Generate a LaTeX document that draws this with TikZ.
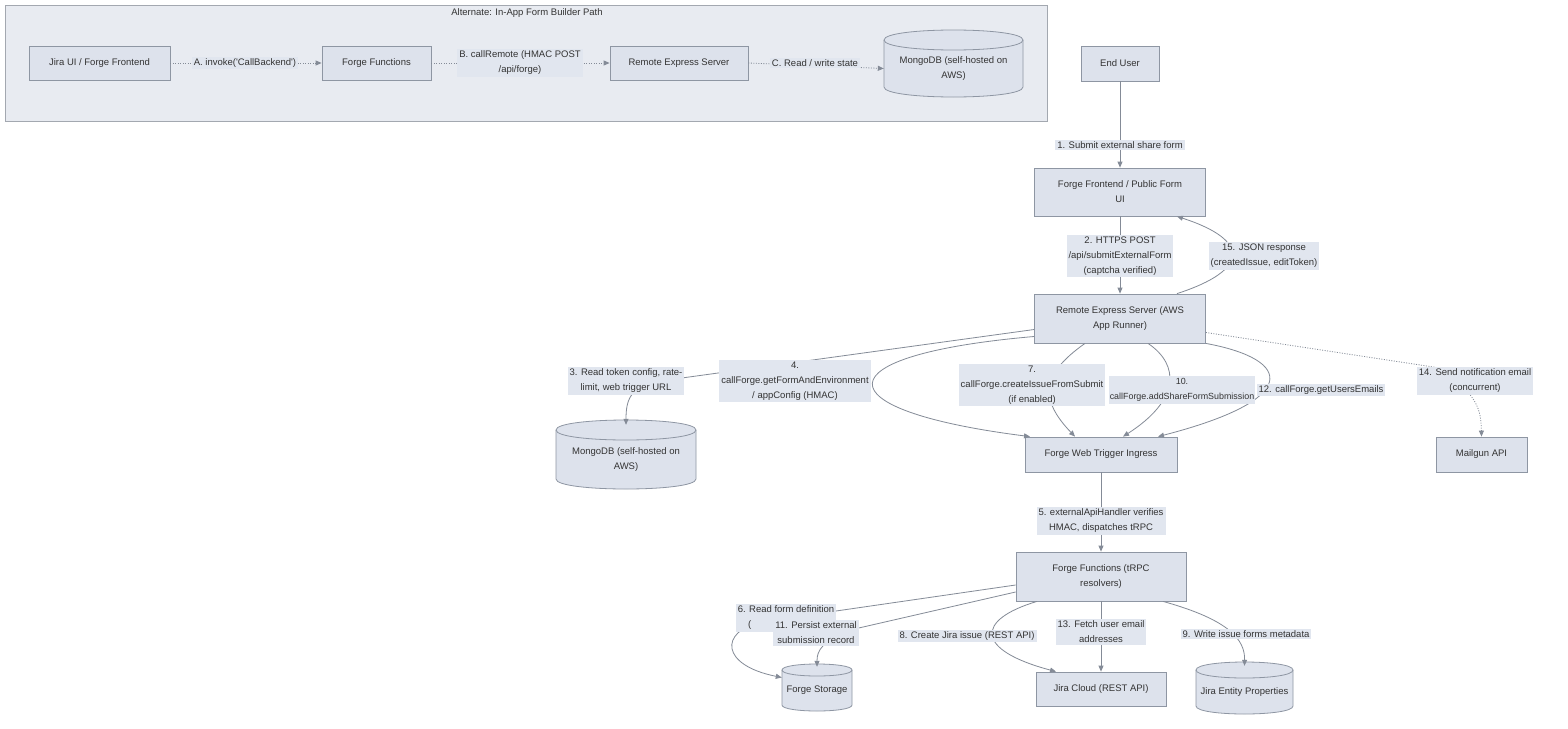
\documentclass[tikz,border=0pt]{standalone}
\usepackage{fontspec}
\setmainfont{Liberation Sans}
\usetikzlibrary{arrows.meta,calc}
\definecolor{nfill}{HTML}{DDE2EC}
\definecolor{nborder}{HTML}{8E96A3}
\definecolor{cfill}{HTML}{E8EBF1}
\definecolor{cborder}{HTML}{A3A8B0}
\definecolor{lfill}{HTML}{E1E6EF}
\definecolor{edgec}{HTML}{848B97}
\definecolor{txt}{HTML}{333333}
\tikzset{
 box/.style={draw=nborder, fill=nfill, line width=0.8pt, align=center, text=txt, font=\fontsize{9.5}{15}\selectfont, inner sep=0pt},
 lbl/.style={fill=lfill, align=center, text=txt, font=\fontsize{9.5}{15}\selectfont, inner xsep=2pt, inner ysep=2pt},
 edge/.style={draw=edgec, line width=0.8pt},
 arr/.style={-{Triangle[length=6pt,width=5pt]}},
 dotl/.style={dash pattern=on 1pt off 1.5pt}
}
% name, L, T, R, B, ry, text
\newcommand{\dbcyl}[7]{%
 \path[fill=nfill, draw=nborder, line width=0.8pt] (#2,#3+#6) -- (#2,#5-#6) .. controls (#2,#5+#6/3) and (#4,#5+#6/3) .. (#4,#5-#6) -- (#4,#3+#6) .. controls (#4,#3-#6/3) and (#2,#3-#6/3) .. (#2,#3+#6) -- cycle;
 \draw[nborder, line width=0.8pt] (#2,#3+#6) .. controls (#2,#3+#6*7/3) and (#4,#3+#6*7/3) .. (#4,#3+#6);
 \node[align=center, text=txt, font=\fontsize{9.5}{15}\selectfont, inner sep=0pt, minimum width={(#4-#2)*1pt}, minimum height={(#5-#3)*1pt}] (#1) at ({(#2+#4)/2},{(#3+#5)/2+#6/2}) {#7};
}
\begin{document}
\begin{tikzpicture}[x=1pt,y=-1pt]
\useasboundingbox[fill=white] (0,0) rectangle (1568,728);
% cluster
\draw[fill=cfill, draw=cborder, line width=0.8pt] (5,5) rectangle (1047,121);
\node[text=txt, font=\fontsize{9.5}{15}\selectfont] (ctitle) at (527,13) {Alternate: In-App Form Builder Path};
% top row
\node[box, minimum width=141pt, minimum height=34pt] (jira) at (99.5,63) {Jira UI / Forge Frontend};
\node[box, minimum width=109pt, minimum height=34pt] (ffa) at (376.5,63) {Forge Functions};
\node[box, minimum width=138pt, minimum height=34pt] (rema) at (679,63) {Remote Express Server};
\dbcyl{mongoa}{884}{30}{1023}{97}{10}{MongoDB (self-hosted on\\AWS)}
% main column
\node[box, minimum width=78pt, minimum height=35pt] (user) at (1120,63.5) {End User};
\node[box, minimum width=171pt, minimum height=48pt] (ffe) at (1120,192) {Forge Frontend / Public Form\\UI};
\node[box, minimum width=171pt, minimum height=49pt] (rem) at (1120,318.5) {Remote Express Server (AWS\\App Runner)};
\dbcyl{mongob}{556}{420}{696}{489}{10}{MongoDB (self-hosted on\\AWS)}
\node[box, minimum width=152pt, minimum height=35pt] (wt) at (1101,454.5) {Forge Web Trigger Ingress};
\node[box, minimum width=91pt, minimum height=35pt] (mail) at (1481.5,454.5) {Mailgun API};
\node[box, minimum width=170pt, minimum height=49pt] (ffn) at (1101,576.5) {Forge Functions (tRPC\\resolvers)};
\dbcyl{fstore}{782}{664}{852}{711}{6}{Forge Storage}
\node[box, minimum width=130pt, minimum height=34pt] (jc) at (1101,689) {Jira Cloud (REST API)};
\dbcyl{jep}{1196}{662}{1293}{714}{8}{Jira Entity Properties}
% edges top
\draw[edge,dotl,arr] (jira.east) -- (ffa.west);
\draw[edge,dotl,arr] (ffa.east) -- (rema.west);
\draw[edge,dotl,arr] (rema.east) -- (mongoa.west);
% main edges
\draw[edge,arr] (user.south) -- (ffe.north);
\draw[edge,arr] (ffe.south) -- (rem.north);
\draw[edge,arr] ([xshift=57pt]rem.north) .. controls (1250,270) and (1250,240) .. ([xshift=57pt]ffe.south);
\draw[edge,arr] ([yshift=-11pt]rem.west) -- (660,381) .. controls (630,386) and (626,400) .. (mongob.north);
\draw[edge,arr] ([yshift=-18pt]rem.west) .. controls (820,355) and (820,410) .. ([xshift=-71pt]wt.north);
\draw[edge,arr] ([xshift=-35pt]rem.south) .. controls (1040,375) and (1040,400) .. ([xshift=-26pt]wt.north);
\draw[edge,arr] ([xshift=28pt]rem.south) .. controls (1180,365) and (1180,400) .. ([xshift=22pt]wt.north);
\draw[edge,arr] (rem.south east) .. controls (1295,360) and (1300,400) .. ([xshift=57pt]wt.north);
\draw[edge,dotl,arr] ([yshift=-14pt]rem.east) -- (1440,368) .. controls (1478,395) and (1481,410) .. (mail.north);
\draw[edge,arr] (wt.south) -- (ffn.north);
\draw[edge,arr] ([yshift=-8.5pt]ffn.west) -- (760,622) .. controls (720,632) and (720,665) .. ([yshift=13pt]fstore.west);
\draw[edge,arr] ([yshift=-15.5pt]ffn.west) -- (850,630) .. controls (822,642) and (817,650) .. (fstore.north);
\draw[edge,arr] ([xshift=-64pt]ffn.south) .. controls (975,620) and (975,650) .. ([xshift=-45pt]jc.north);
\draw[edge,arr] (ffn.south) -- (jc.north);
\draw[edge,arr] ([xshift=62pt]ffn.south) .. controls (1230,620) and (1245,640) .. (jep.north);
% labels
\node[lbl] (la) at (245,63) {A. invoke(\textquotesingle CallBackend\textquotesingle)};
\node[lbl] (lb) at (520,63) {B. callRemote (HMAC POST\\/api/forge)};
\node[lbl] (lc) at (815,63) {C. Read / write state};
\node[lbl] (l1) at (1120,145) {1. Submit external share form};
\node[lbl] (l2) at (1120,256) {2. HTTPS POST\\/api/submitExternalForm\\(captcha verified)};
\node[lbl] (l15) at (1264,256) {15. JSON response\\(createdIssue, editToken)};
\node[lbl] (l3) at (626,381) {3. Read token config, rate-\\limit, web trigger URL};
\node[lbl] (l4) at (795,381) {4.\\callForge.getFormAndEnvironment\\/ appConfig (HMAC)};
\node[lbl] (l7) at (1032,385) {7.\\callForge.createIssueFromSubmit\\(if enabled)};
\node[lbl, font=\fontsize{8.9}{15}\selectfont, inner xsep=1pt] (l10) at (1182,390) {10.\\callForge.addShareFormSubmission};
\node[lbl] (l12) at (1321,390) {12. callForge.getUsersEmails};
\node[lbl] (l14) at (1475,381) {14. Send notification email\\(concurrent)};
\node[lbl] (l5) at (1101,521) {5. externalApiHandler verifies\\HMAC, dispatches tRPC};
\node[lbl] (l6) at (786,618) {6. Read form definition\\\makebox[76pt][l]{(}};
\node[lbl] (l11) at (816,633) {11. Persist external\\submission record};
\node[lbl] (l8) at (967,636) {8. Create Jira issue (REST API)};
\node[lbl] (l13) at (1101,632) {13. Fetch user email\\addresses};
\node[lbl] (l9) at (1246,634) {9. Write issue forms metadata};
\end{tikzpicture}
\end{document}
